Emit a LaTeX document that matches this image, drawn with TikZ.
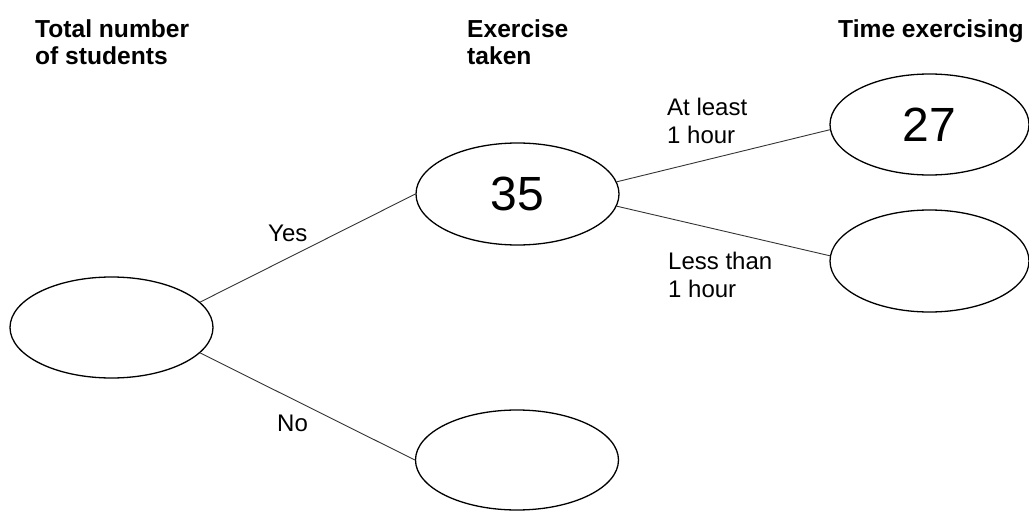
\documentclass[tikz,border=0pt]{standalone}
\usepackage{fontspec}
\setmainfont{Liberation Sans}
\usetikzlibrary{shapes.geometric}
\begin{document}
\begin{tikzpicture}[x=1pt,y=-1pt,
  oval/.style={draw=black,line width=1.3pt,ellipse,inner sep=0pt,
    minimum width=203pt,minimum height=101pt,font=\fontsize{48}{50}\selectfont},
  conn/.style={draw=black!80,line width=0.9pt},
  header/.style={anchor=north west,inner sep=0pt,align=left,
    font=\fontsize{24.6}{27}\selectfont\bfseries},
  lbl/.style={anchor=north west,inner sep=0pt,align=left,
    font=\fontsize{24}{28}\selectfont}]
\useasboundingbox (0,0) rectangle (1029,511);
% headers
\node[header] (h1) at (35,19.4) {Total number\\of students};
\node[header] (h2) at (467,19.4) {Exercise\\taken};
\node[header] (h3) at (838,19.4) {Time exercising};
% ellipses
\node[oval] (L) at (111.5,327.5) {};
\node[oval,minimum height=102pt] (M1) at (517.5,194) {35};
\node[oval,minimum height=100pt] (M2) at (517,460) {};
\node[oval,minimum width=199pt] (R1) at (929.5,124.5) {27};
\node[oval,minimum width=199pt,minimum height=102pt] (R2) at (929.5,261) {};
% connectors
\draw[conn] (L.16) -- (M1.west);
\draw[conn] (L.-16) -- (M2.west);
\draw[conn] (M1.7) -- (R1.183.5);
\draw[conn] (M1.-7) -- (R2.177.7);
% labels
\node[lbl] (yes) at (268,224.8) {Yes};
\node[lbl] (no) at (277,414.8) {No};
\node[lbl] (atl) at (667,97.8) {At least\\1 hour};
\node[lbl] (lt) at (668,251.8) {Less than\\1 hour};
\end{tikzpicture}
\end{document}
